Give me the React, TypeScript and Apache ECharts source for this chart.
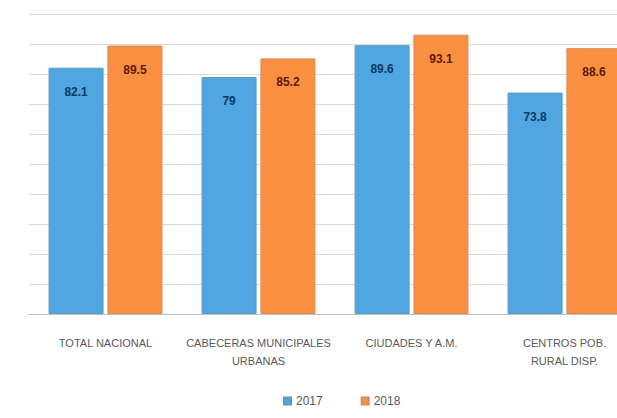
import React, { useEffect, useRef } from "react";
import * as echarts from "echarts";

const categories = [
  "TOTAL NACIONAL",
  "CABECERAS MUNICIPALES\nURBANAS",
  "CIUDADES Y A.M.",
  "CENTROS POB.\nRURAL DISP.",
];
const legendNames = ["2017", "2018"];
const seriesA = [82.1, 79, 89.6, 73.8];
const seriesB = [89.5, 85.2, 93.1, 88.6];

export default function App() {
  const ref = useRef<HTMLDivElement>(null);
  useEffect(() => {
    document.body.style.margin = "0";
    const chart = echarts.init(ref.current!, null, { renderer: "svg" });
    chart.setOption({
      animation: false,
      backgroundColor: "#ffffff",
      textStyle: { fontFamily: "Liberation Sans, Arial, sans-serif" },
      grid: { left: 29, top: 14, right: 19, bottom: 104, containLabel: false },
      legend: {
        data: legendNames,
        bottom: 6,
        left: 278,
        itemWidth: 7,
        itemHeight: 7,
        itemGap: 38,
        icon: "rect",
        textStyle: { color: "#595959", fontSize: 12 },
      },
      xAxis: {
        type: "category",
        data: categories,
        axisLine: { lineStyle: { color: "#bfbfbf" } },
        axisTick: { show: false },
        axisLabel: {
          color: "#595959",
          fontSize: 11,
          margin: 20,
          lineHeight: 18,
          interval: 0,
        },
      },
      yAxis: {
        type: "value",
        min: 0,
        max: 100,
        interval: 10,
        axisLabel: { show: false },
        axisLine: { show: false },
        axisTick: { show: false },
        splitLine: { lineStyle: { color: "#d9d9d9" } },
      },
      series: [
        {
          name: legendNames[0],
          type: "bar",
          data: seriesA,
          barWidth: 55,
          barGap: "7%",
          itemStyle: { color: "#4fa6e0", borderColor: "#5a9bc4", borderWidth: 1 },
          label: {
            show: true,
            position: "insideTop",
            distance: 18,
            color: "#0b3a5e",
            fontWeight: "bold",
            fontSize: 12,
          },
        },
        {
          name: legendNames[1],
          type: "bar",
          data: seriesB,
          barWidth: 55,
          itemStyle: { color: "#fb9042", borderColor: "#d98a55", borderWidth: 1 },
          label: {
            show: true,
            position: "insideTop",
            distance: 18,
            color: "#5c1a00",
            fontWeight: "bold",
            fontSize: 12,
          },
        },
      ],
    });
    return () => chart.dispose();
  }, []);
  return (
    <div
      style={{
        position: "fixed",
        left: 0,
        top: 0,
        width: 617,
        height: 418,
        overflow: "hidden",
        background: "#fff",
      }}
    >
      <div ref={ref} style={{ width: 660, height: 418 }} />
    </div>
  );
}
